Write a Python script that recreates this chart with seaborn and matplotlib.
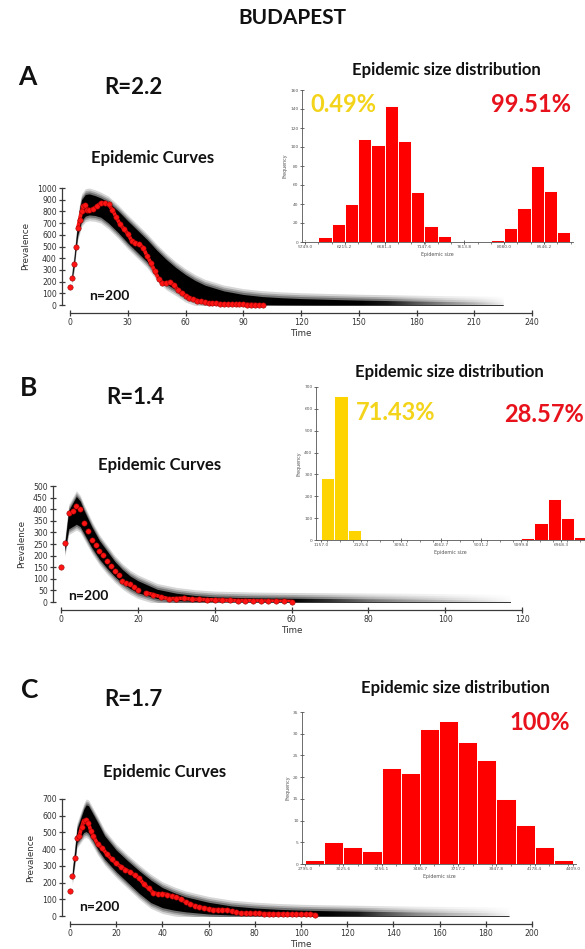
import numpy as np
import pandas as pd
import matplotlib
matplotlib.use("Agg")
import matplotlib.pyplot as plt
import seaborn as sns
from matplotlib.colors import LinearSegmentedColormap
from matplotlib.ticker import MultipleLocator

# ======================= DATA =======================
# ---- Panel A : R = 2.2 ----
a_red_t = [0, 1, 2, 3, 4, 5, 6, 7, 8, 9, 10,
           12, 14, 16, 18, 20, 22, 24, 26, 28, 30, 32, 34, 36, 38, 40, 42, 44, 46, 48, 50,
           52, 54, 56, 58, 60, 62, 64, 66, 68, 70, 72, 74, 76, 78, 80, 82, 84, 86, 88, 90,
           92, 94, 96, 98, 100]
a_red_v = [150, 235, 350, 500, 655, 730, 800, 845, 855, 815, 810,
           820, 845, 870, 875, 860, 815, 750, 690, 650, 610, 550, 530, 520, 490, 420, 360, 290, 225, 185, 190,
           195, 170, 130, 100, 80, 62, 48, 38, 30, 22, 18, 15, 13, 11, 10, 9, 8, 7, 6, 5,
           4, 4, 3, 2, 2]
a_band_t = [1, 2, 3, 4, 5, 6, 8, 10, 13, 16, 20, 25, 30, 35, 40, 45, 50, 55, 60, 65, 70, 80, 90,
            100, 110, 120, 135, 150, 165, 180, 195, 210, 225]
a_band_hi = [260, 380, 540, 700, 820, 900, 945, 950, 935, 915, 880, 805, 720, 640, 560, 470, 390, 320,
             260, 210, 170, 120, 90, 72, 62, 55, 48, 42, 38, 34, 30, 27, 24]
a_band_lo = [220, 320, 470, 600, 660, 720, 760, 770, 765, 750, 700, 620, 530, 450, 370, 260, 180, 130,
             75, 45, 28, 15, 7, 4, 2, 1, 0, 0, 0, 0, 0, 0, 0]
a_band_fade = [1, 1, 1, 1, 1, 1, 1, 1, 1, 1, 1, 1, 1, 1, 1, 1, 1, 1, 1, 1, 1, 1, 1,
               1, 1, 1, 1, 1, 0.9, 0.65, 0.45, 0.28, 0.05]
a_hist_start, a_hist_width = 5749.0, 155.4
a_hist_counts = [1, 5, 19, 40, 108, 102, 143, 106, 53, 17, 6, 0, 0, 0, 2, 15, 36, 80, 54, 11]
a_hist_xlabels = ["5749.0", "6215.2", "6681.4", "7147.6", "7613.8", "8080.0", "8546.2"]
a_hist_yticks = [0, 20, 40, 60, 80, 100, 120, 140, 160]
a_curve_xticks = [0, 30, 60, 90, 120, 150, 180, 210, 240]
a_curve_yticks = [0, 100, 200, 300, 400, 500, 600, 700, 800, 900, 1000]
a_pct_minor, a_pct_major = "0.49%", "99.51%"
a_line_from = 4

# ---- Panel B : R = 1.4 ----
b_red_t = [0, 1, 2, 3, 4, 5, 6, 7, 8, 9, 10, 11, 12, 13, 14, 15, 16, 17, 18, 19, 20,
           22, 24, 26, 28, 30, 32, 34, 36, 38, 40, 42, 44, 46, 48, 50, 52, 54, 56, 58, 60]
b_red_v = [151, 254, 384, 391, 412, 402, 340, 305, 269, 244, 220, 201, 177, 154, 132, 115, 90, 83, 79, 65, 52,
           40, 32, 22, 14, 15, 16, 12, 11, 10, 9, 8, 7, 6, 6, 5, 4, 4, 3, 3, 2]
b_band_t = [1, 2, 3, 4, 5, 6, 8, 10, 12, 14, 16, 18, 20, 25, 30, 35, 40, 50, 60, 70, 80, 90, 100, 110, 117]
b_band_hi = [250, 395, 425, 455, 435, 395, 325, 265, 220, 175, 140, 112, 92, 55, 38, 28, 22, 18, 16, 15, 14, 13, 11, 9, 7]
b_band_lo = [220, 315, 325, 335, 325, 295, 235, 185, 145, 110, 80, 58, 40, 15, 6, 3, 2, 1, 0, 0, 0, 0, 0, 0, 0]
b_band_fade = [1, 1, 1, 1, 1, 1, 1, 1, 1, 1, 1, 1, 1, 1, 1, 1, 1, 1, 1, 0.8, 0.55, 0.38, 0.25, 0.12, 0.02]
b_hist_start, b_hist_width = 1157.0, 322.85
b_hist_minor_counts = [285, 660, 47, 0, 0, 0, 0, 0, 0, 0, 0, 0, 0, 0, 0, 0, 0, 0, 0, 0]
b_hist_major_counts = [0, 0, 0, 0, 0, 0, 0, 0, 0, 0, 0, 0, 0, 0, 0, 10, 76, 186, 99, 15]
b_hist_xlabels = ["1157.0", "2125.6", "3094.1", "4062.7", "5031.2", "5999.8", "6968.3"]
b_hist_yticks = [0, 100, 200, 300, 400, 500, 600, 700]
b_curve_xticks = [0, 20, 40, 60, 80, 100, 120]
b_curve_yticks = [0, 50, 100, 150, 200, 250, 300, 350, 400, 450, 500]
b_pct_minor, b_pct_major = "71.43%", "28.57%"
b_line_from = 21

# ---- Panel C : R = 1.7 ----
c_red_t = [0, 1, 2, 3, 4, 5, 6, 7, 8, 9, 10,
           12, 14, 16, 18, 20, 22, 24, 26, 28, 30, 32, 34, 36, 38, 40, 42, 44, 46, 48, 50,
           52, 54, 56, 58, 60, 62, 64, 66, 68, 70, 72, 74, 76, 78, 80, 82, 84, 86, 88, 90,
           92, 94, 96, 98, 100, 102, 104, 106]
c_red_v = [150, 240, 350, 465, 480, 530, 570, 575, 555, 510, 480,
           430, 405, 370, 340, 315, 295, 278, 262, 245, 225, 190, 165, 140, 132, 134, 128, 120, 114, 100, 84,
           72, 60, 54, 48, 42, 38, 38, 38, 36, 28, 22, 18, 17, 16, 15, 15, 14, 14, 13, 12,
           12, 11, 11, 10, 10, 9, 9, 8]
c_band_t = [1, 2, 3, 4, 5, 6, 7, 8, 10, 12, 15, 20, 25, 30, 35, 40, 45, 50, 60, 70, 80, 90, 100,
            110, 125, 135, 150, 165, 180, 190]
c_band_hi = [260, 380, 520, 560, 600, 640, 665, 660, 610, 560, 480, 395, 330, 270, 215, 170, 140, 115,
             82, 60, 48, 40, 35, 32, 29, 27, 24, 22, 20, 18]
c_band_lo = [220, 320, 440, 460, 480, 500, 505, 495, 450, 400, 340, 265, 200, 135, 80, 50, 35, 25,
             12, 6, 3, 2, 1, 0, 0, 0, 0, 0, 0, 0]
c_band_fade = [1, 1, 1, 1, 1, 1, 1, 1, 1, 1, 1, 1, 1, 1, 1, 1, 1, 1, 1, 1, 1, 1, 1,
               1, 0.9, 0.7, 0.45, 0.28, 0.15, 0.03]
c_hist_start, c_hist_width = 2795.0, 115.29
c_hist_counts = [1, 5, 4, 3, 22, 21, 31, 33, 28, 24, 15, 9, 4, 1]
c_hist_xlabels = ["2795.0", "3025.6", "3256.1", "3486.7", "3717.2", "3947.8", "4178.4", "4409.0"]
c_hist_yticks = [0, 5, 10, 15, 20, 25, 30, 35]
c_curve_xticks = [0, 20, 40, 60, 80, 100, 120, 140, 160, 180, 200]
c_curve_yticks = [0, 100, 200, 300, 400, 500, 600, 700]
c_pct_major = "100%"
c_line_from = 3

n_label = "n=200"

# ======================= STYLE =======================
sns.set_style("ticks")
plt.rcParams["font.family"] = ["Lato", "DejaVu Sans"]

W, H = 585, 949
fig = plt.figure(figsize=(W / 100, H / 100), dpi=100)
fig.patch.set_facecolor("white")

RED_BAR = "#ff0000"
YEL_BAR = "#fdd300"
RED_TXT = "#e8121c"
YEL_TXT = "#f3d41a"
RED_DOT = "#ff1414"
AX_COL = "#3a3a3a"
TICK_FONT = "DejaVu Sans"

# white veil used to fade the tail of the trajectory cloud
veil_cmap = LinearSegmentedColormap.from_list("veil", [(1, 1, 1, 0), (1, 1, 1, 1)])


def px_axes(l, t, r, b):
    return fig.add_axes([l / W, 1 - b / H, (r - l) / W, (b - t) / H])


def ftext(x, y, s, **kw):
    kw.setdefault("ha", "center")
    kw.setdefault("va", "center")
    fig.text(x / W, 1 - y / H, s, **kw)


def draw_cloud(ax, t, lo, hi, fade, ylim):
    t = np.asarray(t, float)
    lo = np.asarray(lo, float)
    hi = np.asarray(hi, float)
    fade = np.asarray(fade, float)
    soft = 0.05 * ylim[1]
    # soft blurred halo around the dense core of trajectories
    for k, a in [(1.0, 0.16), (0.65, 0.22), (0.35, 0.32)]:
        ax.fill_between(t, lo - k * soft, hi + k * soft, color="black", alpha=a,
                        linewidth=0, zorder=1)
    ax.fill_between(t, lo, hi, color="black", linewidth=0, zorder=1.1)
    # fade of the tail (fewer trajectories still running)
    grid = np.linspace(t[0], t[-1] + 0.5, 500)
    veil = 1 - np.interp(grid, t, fade)
    ax.imshow(veil[None, :], extent=(t[0], t[-1] + 0.5, ylim[0] - 2 * soft, ylim[1]),
              aspect="auto", cmap=veil_cmap, vmin=0, vmax=1, interpolation="bilinear",
              zorder=1.5)


def style_curve(ax, xticks, yticks, xlim, ylim, offset_pt):
    ax.set_xlim(*xlim)
    ax.set_ylim(*ylim)
    ax.set_xticks(xticks)
    ax.set_yticks(yticks)
    ax.set_facecolor("none")
    for s in ["top", "right"]:
        ax.spines[s].set_visible(False)
    for s in ["left", "bottom"]:
        ax.spines[s].set_position(("outward", offset_pt))
        ax.spines[s].set_color(AX_COL)
        ax.spines[s].set_linewidth(0.9)
    ax.tick_params(direction="inout", length=5, width=0.9, color=AX_COL,
                   labelsize=5.6, labelcolor="#333333", pad=1.2)
    for lab in ax.get_xticklabels() + ax.get_yticklabels():
        lab.set_fontfamily(TICK_FONT)
    ax.set_xlabel("Time", fontsize=6.3, color="#333333", family=TICK_FONT, labelpad=1)
    ax.set_ylabel("Prevalence", fontsize=6.3, color="#333333", family=TICK_FONT, labelpad=5)


def curve_panel(box, red_t, red_v, line_from, bt, blo, bhi, bfade, xticks, yticks, offset_pt):
    ax = px_axes(*box)
    xlim = (xticks[0], xticks[-1])
    ylim = (yticks[0], yticks[-1])
    draw_cloud(ax, bt, blo, bhi, bfade, ylim)
    df = pd.DataFrame({"t": red_t, "v": red_v})
    dense = df[df["t"] >= line_from]
    sns.lineplot(data=dense, x="t", y="v", ax=ax, color=RED_DOT, linewidth=2.6,
                 zorder=2.9, legend=False)
    sns.scatterplot(data=df, x="t", y="v", ax=ax, color=RED_DOT, s=15,
                    edgecolor="#8a0000", linewidth=0.35, zorder=3, clip_on=False, legend=False)
    style_curve(ax, xticks, yticks, xlim, ylim, offset_pt)
    return ax


def hist_panel(box, start, width, series, xlabels, yticks, xlim):
    ax = px_axes(*box)
    nb = len(series[0][0])
    edges = [start + width * k for k in range(nb + 1)]
    centers = [(edges[k] + edges[k + 1]) / 2 for k in range(nb)]
    for counts, col in series:
        df = pd.DataFrame({"size": centers, "count": [float(c) for c in counts]})
        sns.histplot(data=df, x="size", weights="count", bins=edges, color=col, alpha=1,
                     edgecolor="white", linewidth=0.7, ax=ax, zorder=2)
    xt = [float(s) for s in xlabels]
    ax.set_xticks(xt)
    ax.set_xticklabels(xlabels)
    ax.xaxis.set_minor_locator(MultipleLocator(width))
    ax.set_yticks(yticks)
    ax.set_xlim(*xlim)
    ax.set_ylim(yticks[0], yticks[-1])
    ax.set_facecolor("none")
    for s in ["top", "right"]:
        ax.spines[s].set_visible(False)
    for s in ["left", "bottom"]:
        ax.spines[s].set_color("#555555")
        ax.spines[s].set_linewidth(0.6)
    ax.tick_params(which="major", direction="inout", length=3, width=0.6, color="#555555",
                   labelsize=3.2, labelcolor="#555555", pad=1)
    ax.tick_params(which="minor", direction="out", length=1.5, width=0.5, color="#555555")
    ax.tick_params(axis="y", which="minor", length=0)
    for lab in ax.get_xticklabels() + ax.get_yticklabels():
        lab.set_fontfamily(TICK_FONT)
    ax.set_xlabel("Epidemic size", fontsize=3.4, color="#555555", family=TICK_FONT, labelpad=1.5)
    ax.set_ylabel("Frequency", fontsize=3.4, color="#555555", family=TICK_FONT, labelpad=2)
    return ax


# ======================= PANEL A =======================
curve_panel((70, 188, 532, 305), a_red_t, a_red_v, a_line_from,
            a_band_t, a_band_lo, a_band_hi, a_band_fade, a_curve_xticks, a_curve_yticks, 5.8)
hist_panel((302, 90, 573, 242), a_hist_start, a_hist_width, [(a_hist_counts, RED_BAR)],
           a_hist_xlabels, a_hist_yticks, (5714, 8887))

# ======================= PANEL B =======================
curve_panel((61, 486, 522, 602), b_red_t, b_red_v, b_line_from,
            b_band_t, b_band_lo, b_band_hi, b_band_fade, b_curve_xticks, b_curve_yticks, 5.8)
hist_panel((316, 387, 585, 540), b_hist_start, b_hist_width,
           [(b_hist_minor_counts, YEL_BAR), (b_hist_major_counts, RED_BAR)],
           b_hist_xlabels, b_hist_yticks, (1036, 7548))

# ======================= PANEL C =======================
curve_panel((70, 799, 532, 916), c_red_t, c_red_v, c_line_from,
            c_band_t, c_band_lo, c_band_hi, c_band_fade, c_curve_xticks, c_curve_yticks, 5.8)
hist_panel((302, 712, 576, 864), c_hist_start, c_hist_width, [(c_hist_counts, RED_BAR)],
           c_hist_xlabels, c_hist_yticks, (2777, 4427))

# ======================= TEXT =======================
bold = dict(fontweight="bold", color="#111111")
ftext(292, 18, "BUDAPEST", fontsize=15, **bold)

ftext(27, 77, "A", fontsize=19, **bold)
ftext(29, 388, "B", fontsize=19, **bold)
ftext(30, 690, "C", fontsize=19, **bold)

ftext(133, 88, "R=2.2", fontsize=16, **bold)
ftext(135, 397, "R=1.4", fontsize=16, **bold)
ftext(133, 700, "R=1.7", fontsize=16, **bold)

ftext(446, 70, "Epidemic size distribution", fontsize=12, **bold)
ftext(449, 372, "Epidemic size distribution", fontsize=12, **bold)
ftext(455, 688, "Epidemic size distribution", fontsize=12, **bold)

ftext(153, 158, "Epidemic Curves", fontsize=12, **bold)
ftext(160, 465, "Epidemic Curves", fontsize=12, **bold)
ftext(165, 772, "Epidemic Curves", fontsize=12, **bold)

ftext(109, 296, n_label, fontsize=10, **bold)
ftext(88, 596, n_label, fontsize=10, **bold)
ftext(99, 907, n_label, fontsize=10, **bold)

pct = dict(fontsize=17, fontweight="bold")
ftext(343, 105, a_pct_minor, color=YEL_TXT, **pct)
ftext(531, 105, a_pct_major, color=RED_TXT, **pct)
ftext(396, 413, b_pct_minor, color=YEL_TXT, **pct)
ftext(544, 415, b_pct_major, color=RED_TXT, **pct)
ftext(540, 722, c_pct_major, color=RED_TXT, **pct)

fig.savefig("out.png", dpi=100, facecolor="white")
